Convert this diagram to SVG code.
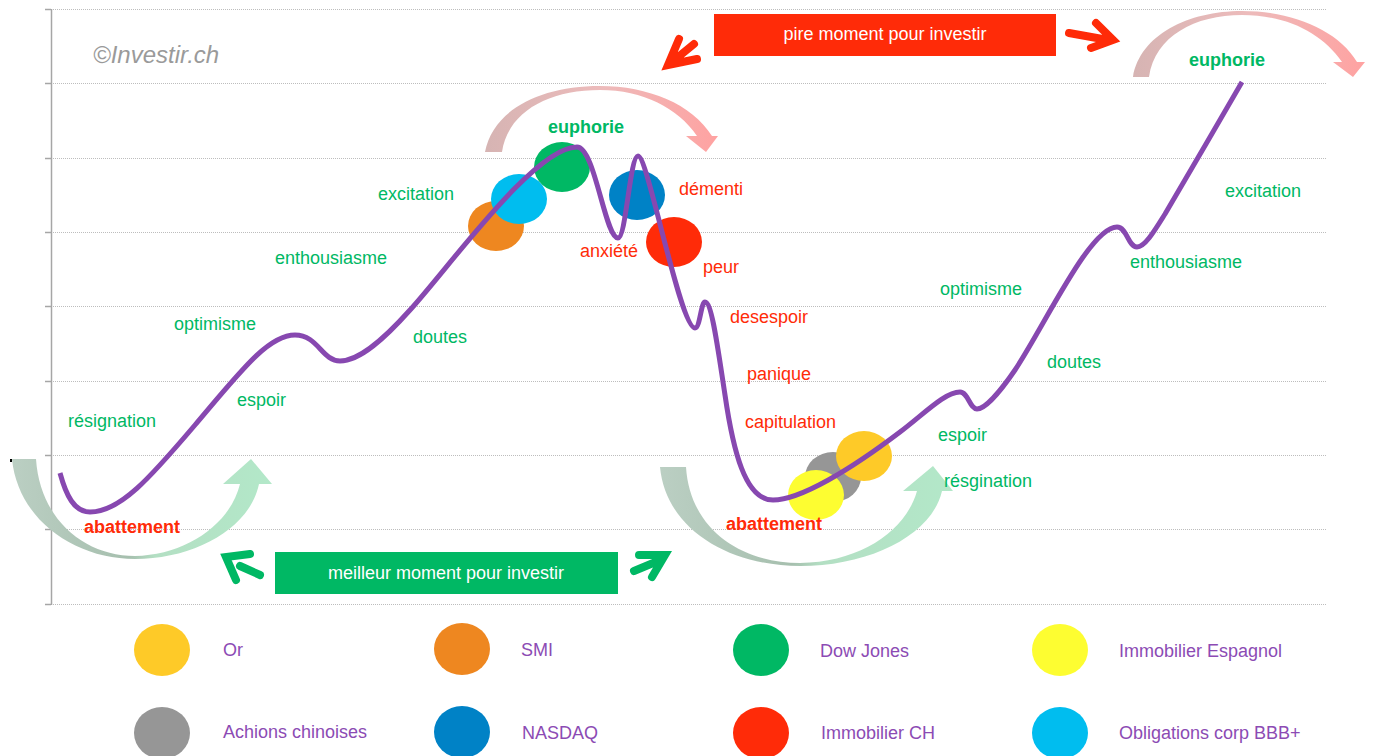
<svg xmlns="http://www.w3.org/2000/svg" width="1373" height="756" viewBox="0 0 1373 756">
<defs>
<style>
.grid{stroke:#BDBDBD;stroke-width:1;stroke-dasharray:1 1;fill:none}
.axis{stroke:#A6A6A6;stroke-width:1.5;fill:none}
.t{font-family:'Liberation Sans',Arial,sans-serif;font-size:18px}
.g{fill:#00B864}
.r{fill:#FF2B08}
.b{font-weight:bold}
.leg{fill:#8C4BB4}
.w{fill:#FFFFFF}
.curve{fill:none;stroke:#8748B0;stroke-width:5;stroke-linejoin:round}
.chev{fill:none;stroke-width:8;stroke-linecap:round;stroke-linejoin:miter;stroke-miterlimit:10}
.cr{stroke:#FF2B08}
.cg{stroke:#00B864}
</style>
<linearGradient id="redArc" x1="0" y1="0" x2="1" y2="0">
<stop offset="0" stop-color="#D6B4B3"/>
<stop offset="0.5" stop-color="#EDBBBB"/>
<stop offset="1" stop-color="#FFA2A1"/>
</linearGradient>
<linearGradient id="greenArc" x1="0" y1="0" x2="1" y2="0">
<stop offset="0" stop-color="#BBCFC3"/>
<stop offset="0.45" stop-color="#A6BFAE"/>
<stop offset="0.55" stop-color="#B3DFC3"/>
<stop offset="1" stop-color="#B3E8C9"/>
</linearGradient>
</defs>
<rect width="1373" height="756" fill="#FFFFFF"/>

<g id="grid">
<line class="grid" x1="51" y1="9.5" x2="1327" y2="9.5"/>
<line class="grid" x1="51" y1="83.5" x2="1327" y2="83.5"/>
<line class="grid" x1="51" y1="158.5" x2="1327" y2="158.5"/>
<line class="grid" x1="51" y1="232.5" x2="1327" y2="232.5"/>
<line class="grid" x1="51" y1="306.5" x2="1327" y2="306.5"/>
<line class="grid" x1="51" y1="381.5" x2="1327" y2="381.5"/>
<line class="grid" x1="51" y1="455.5" x2="1327" y2="455.5"/>
<line class="grid" x1="51" y1="529.5" x2="1327" y2="529.5"/>
<line class="grid" x1="51" y1="604.5" x2="1327" y2="604.5"/>
<path class="axis" d="M51.5,9 V605 M45,9.5 H51 M45,83.5 H51 M45,158.5 H51 M45,232.5 H51 M45,306.5 H51 M45,381.5 H51 M45,455.5 H51 M45,529.5 H51 M45,604.5 H51"/>
</g>

<g id="watermark">
<text x="93" y="63" font-family="'Liberation Sans',Arial,sans-serif" font-style="italic" font-size="24" fill="#9A9A9A">©Investir.ch</text>
</g>

<g id="connectors">
<path fill="url(#redArc)" d="M485,152 C493,110 540,86 600,86 C648,86 692,104 712,136 L718,136 L706,152 L686,136 L697,136 C678,108 643,90 600,90 C548,90 508,112 502,152 Z"/>
<path fill="url(#redArc)" d="M1133,77 C1140,35 1188,11 1242,11 C1292,11 1338,30 1357,62 L1365,62 L1353,77 L1333,62 L1342,62 C1322,33 1287,15 1242,15 C1195,15 1155,36 1149,77 Z"/>
<path fill="url(#greenArc)" d="M12,459 C18,520 75,559 135,559 C195,559 250,528 259,484 L272,484 L251,459 L223,484 L240,484 C230,525 185,555 135,556 C85,556 40,520 36,459 Z"/>
<path fill="url(#greenArc)" d="M660,467 C666,530 730,566 800,566 C870,566 932,535 942,491 L953,491 L933,466 L903,491 L917,491 C906,530 862,562 800,563 C742,563 690,530 686,467 Z"/>
<rect x="10" y="459" width="2" height="3" fill="#000000"/>
<path class="chev cr" d="M679,39 L668,65 L697,59 M672,62 L694,44"/>
<path class="chev cr" d="M1096,23 L1113,40 L1091,48 M1069,33 L1108,40"/>
<path class="chev cg" d="M250,554 L226,557 L236,580 M240,566 L260,575"/>
<path class="chev cg" d="M639,555 L665,555 L652,577 M634,571 L658,561"/>
</g>

<g id="ellipses">
<ellipse cx="496" cy="226" rx="28" ry="25" fill="#EE8720"/>
<ellipse cx="519" cy="199" rx="28" ry="25" fill="#00BDEF"/>
<ellipse cx="562" cy="167" rx="28" ry="25" fill="#00B864"/>
<ellipse cx="637" cy="195" rx="28" ry="25" fill="#0082C6"/>
<ellipse cx="674" cy="242" rx="28" ry="25" fill="#FF2B08"/>
<ellipse cx="833" cy="477" rx="28" ry="25" fill="#969696"/>
<ellipse cx="816" cy="495" rx="28" ry="25" fill="#FDFD31"/>
<ellipse cx="864" cy="456" rx="28" ry="25" fill="#FECA28"/>
</g>

<g id="curve">
<path class="curve" d="M60,473 C66,495 74,512 90,512 C120,512 150,478 195,425 C240,372 268,335 295,335 C318,335 322,361 340,361 C360,361 385,338 410,310 C450,266 535,147 577,147 C595,147 605,238 618,238 C626,238 630,156 638,156 C648,156 680,328 695,328 C700,328 701,302 705,302 C712,302 718,350 725,395 C733,450 745,500 773,500 C800,500 850,470 900,432 C925,413 945,392 960,392 C968,392 970,409 977,409 C985,409 1000,392 1015,370 C1045,325 1090,227 1117,227 C1127,227 1128,247 1137,247 C1145,247 1155,230 1165,214 C1185,180 1220,120 1242,82"/>
</g>

<g id="box-pire">
<rect x="714" y="14" width="342" height="42" fill="#FF2B08"/>
<text class="t w" x="885" y="40" text-anchor="middle">pire moment pour investir</text>
</g>
<g id="box-meilleur">
<rect x="275" y="552" width="343" height="42" fill="#00B864"/>
<text class="t w" x="446" y="579" text-anchor="middle">meilleur moment pour investir</text>
</g>

<g id="labels">
<text class="t g" x="68" y="427">résignation</text>
<text class="t g" x="237" y="406">espoir</text>
<text class="t g" x="174" y="330">optimisme</text>
<text class="t g" x="275" y="264">enthousiasme</text>
<text class="t g" x="413" y="343">doutes</text>
<text class="t g" x="378" y="200">excitation</text>
<text class="t g b" x="548" y="133">euphorie</text>
<text class="t r" x="679" y="195">démenti</text>
<text class="t r" x="580" y="257">anxiété</text>
<text class="t r" x="703" y="273">peur</text>
<text class="t r" x="730" y="323">desespoir</text>
<text class="t r" x="747" y="380">panique</text>
<text class="t r" x="745" y="428">capitulation</text>
<text class="t r b" x="84" y="533">abattement</text>
<text class="t r b" x="726" y="530">abattement</text>
<text class="t g" x="938" y="441">espoir</text>
<text class="t g" x="944" y="487">résgination</text>
<text class="t g" x="1047" y="368">doutes</text>
<text class="t g" x="940" y="295">optimisme</text>
<text class="t g" x="1130" y="268">enthousiasme</text>
<text class="t g" x="1225" y="197">excitation</text>
<text class="t g b" x="1189" y="66">euphorie</text>
</g>

<g id="legend">
<g id="leg-or"><ellipse cx="162" cy="650" rx="28" ry="26" fill="#FECA28"/><text class="t leg" x="223" y="656">Or</text></g>
<g id="leg-smi"><ellipse cx="462" cy="649" rx="28" ry="26" fill="#EE8720"/><text class="t leg" x="521" y="656">SMI</text></g>
<g id="leg-dj"><ellipse cx="761" cy="650" rx="28" ry="26" fill="#00B864"/><text class="t leg" x="820" y="657">Dow Jones</text></g>
<g id="leg-esp"><ellipse cx="1060" cy="650" rx="28" ry="26" fill="#FDFD31"/><text class="t leg" x="1119" y="657">Immobilier Espagnol</text></g>
<g id="leg-chine"><ellipse cx="162" cy="733" rx="28" ry="26" fill="#969696"/><text class="t leg" x="223" y="738">Achions chinoises</text></g>
<g id="leg-nasdaq"><ellipse cx="462" cy="732" rx="28" ry="26" fill="#0082C6"/><text class="t leg" x="522" y="739">NASDAQ</text></g>
<g id="leg-ch"><ellipse cx="761" cy="733" rx="28" ry="26" fill="#FF2B08"/><text class="t leg" x="821" y="739">Immobilier CH</text></g>
<g id="leg-bbb"><ellipse cx="1060" cy="733" rx="28" ry="26" fill="#00BDEF"/><text class="t leg" x="1119" y="739">Obligations corp BBB+</text></g>
</g>
</svg>
